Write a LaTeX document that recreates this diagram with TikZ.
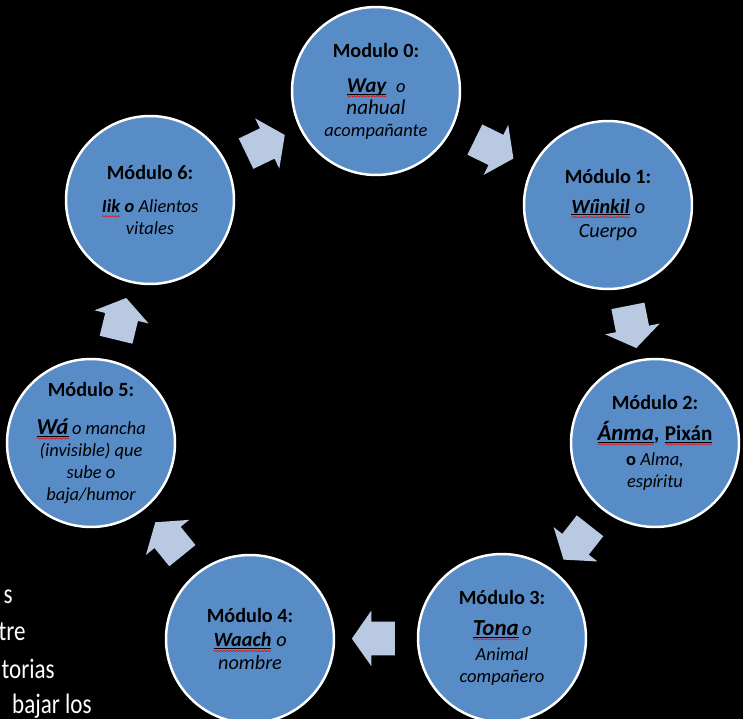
\documentclass[tikz,border=0pt]{standalone}
\usepackage{fontspec}
\setmainfont{Carlito}
\usetikzlibrary{shapes.arrows,decorations.pathmorphing}
\definecolor{modazul}{RGB}{88,140,198}
\definecolor{flechazul}{RGB}{185,201,226}

% word with underline and red spell mark
\newcommand{\subr}[1]{\tikz[baseline=(w.base)]{\node[rectangle,draw=none,fill=none,minimum size=0pt,inner sep=0pt,outer sep=0pt] (w) {#1};
  \draw [black, line width=0.5pt] ([yshift=-1pt]w.base west) -- ([yshift=-1pt]w.base east);
  \draw [red, line width=0.3pt, decorate, decoration={snake, amplitude=0.4pt, segment length=1.8pt}] ([yshift=-2.3pt]w.base west) -- ([yshift=-2.3pt]w.base east);}}
\newcommand{\ondu}[1]{\tikz[baseline=(w.base)]{\node[rectangle,draw=none,fill=none,minimum size=0pt,inner sep=0pt,outer sep=0pt] (w) {#1};
  \draw [red, line width=0.3pt, decorate, decoration={snake, amplitude=0.4pt, segment length=1.8pt}] ([yshift=-2.3pt]w.base west) -- ([yshift=-2.3pt]w.base east);}}
\newcommand{\titulo}[2][5pt]{{\normalfont\bfseries\fontsize{11.5}{13}\selectfont #2}\\[#1]}
\newcommand{\angosto}[1]{\scalebox{0.82}[1]{#1}}

\begin{document}
\begin{tikzpicture}[x=0.02cm, y=-0.02cm,
    modulo/.style={circle, fill=modazul, draw=white, line width=1.4pt, minimum size=3.36cm, inner sep=0pt, align=center, font=\fontsize{10.5}{12.5}\selectfont\itshape},
    flecha/.style={single arrow, fill=flechazul, draw=none, inner xsep=0pt, inner ysep=0.33cm, minimum height=0.86cm, minimum width=1.1cm, single arrow head extend=0.22cm, single arrow tip angle=110, sloped, allow upside down, pos=0.46},
    resto/.style={text=white, font=\fontsize{16}{18}\selectfont, inner sep=0pt}]
        \useasboundingbox (0,0) rectangle (743,719);
        \fill [black] (0,0) rectangle (743,719);
        % modules
        \node [modulo] (m0) at (376,91) {\titulo[7.5pt]{Modulo 0:}{\bfseries\fontsize{12}{13}\selectfont\subr{Way}}\hspace{0.5em}o\\{\fontsize{12}{13}\selectfont nahual}\\acompañante};
        \node [modulo, font=\fontsize{11.5}{14}\selectfont\itshape] (m1) at (608,205) {\titulo[3pt]{Módulo 1:}{\bfseries\subr{Wíinkil}} o\\Cuerpo};
        \node [modulo] (m2) at (655,443) {\titulo{Módulo 2:}{\bfseries\fontsize{13}{13}\selectfont\subr{Ánma}}{\bfseries\fontsize{12}{13}\selectfont, \upshape\subr{Pixán}}\\[2pt]{\upshape\bfseries o} Alma,\\espíritu};
        \node [modulo] (m3) at (502,638) {\titulo{Módulo 3:}{\bfseries\fontsize{13}{13}\selectfont\subr{Tona}}\,o\\[2pt]Animal\\compañero};
        \node [modulo, font=\fontsize{11.5}{13}\selectfont\itshape] (m4) at (250,639) {\titulo[1pt]{Módulo 4:}{\bfseries\subr{Waach}} o\\nombre};
        \node [modulo] (m5) at (91,443) {\titulo[9pt]{Módulo 5:}{\bfseries\fontsize{13}{13}\selectfont\subr{Wá}}\,o mancha\\(invisible) que\\sube o\\baja/humor};
        \node [modulo] (m6) at (150,200) {\titulo[6pt]{Módulo 6:}{\bfseries\ondu{Iik} o} Alientos\\vitales};
        % arrows
        \path (m0) -- node [flecha] (f0) {} (m1);
        \path (m1) -- node [flecha] (f1) {} (m2);
        \path (m2) -- node [flecha] (f2) {} (m3);
        \path (m3) -- node [flecha] (f3) {} (m4);
        \path (m4) -- node [flecha] (f4) {} (m5);
        \path (m5) -- node [flecha] (f5) {} (m6);
        \path (m6) -- node [flecha] (f6) {} (m0);
        % text behind, cut at the edge
        \node [resto, anchor=base east] (r1) at (13,603) {\angosto{s}};
        \node [resto, anchor=base east] (r2) at (26,640) {\angosto{tre}};
        \node [resto, anchor=base east] (r3) at (55,678) {\angosto{torias}};
        \node [resto, anchor=base east] (r4) at (92,713) {\angosto{bajar los}};
\end{tikzpicture}
\end{document}
